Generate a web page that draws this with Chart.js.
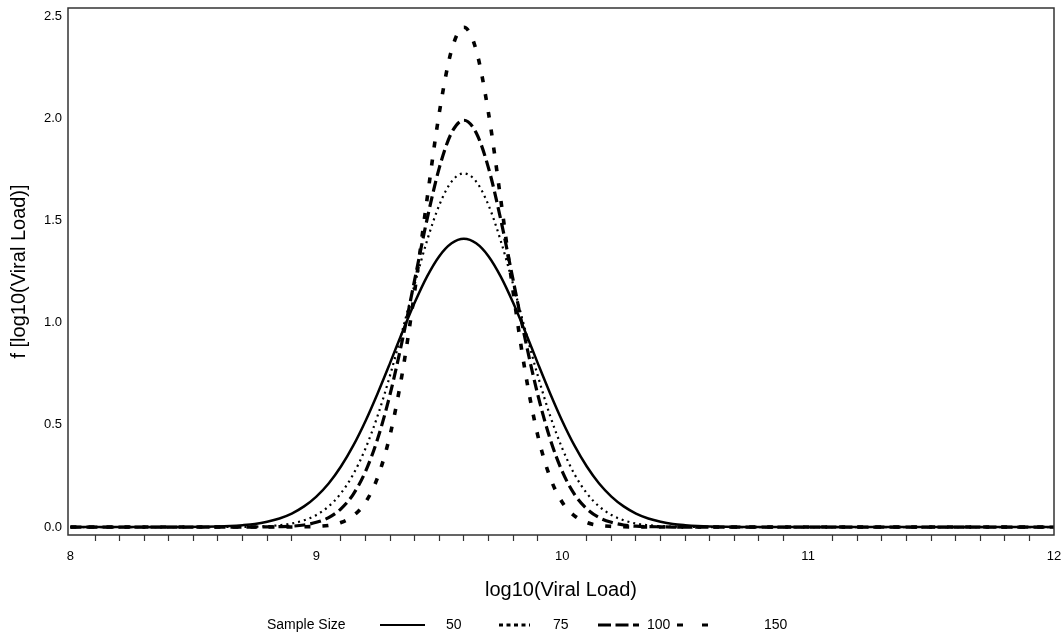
<!DOCTYPE html>
<html>
<head>
<meta charset="utf-8">
<script src="https://cdn.jsdelivr.net/npm/chart.js@4.4.1/dist/chart.umd.min.js"></script>
<style>
  html, body { margin: 0; padding: 0; background: #fff; }
  #wrap { width: 1062px; height: 632px; }
</style>
</head>
<body>
<div id="wrap"><canvas id="chart" width="1062" height="632"></canvas></div>
<script>
// values (density estimates per sample size)
const xs = [8.0, 8.3, 8.6, 8.65, 8.7, 8.75, 8.8, 8.85, 8.9, 8.95, 9.0, 9.05, 9.1, 9.15, 9.2, 9.25, 9.3, 9.35, 9.4, 9.45, 9.5, 9.55,
  9.6, 9.65, 9.7, 9.75, 9.8, 9.85, 9.9, 9.95, 10.0, 10.05, 10.1, 10.15, 10.2, 10.25, 10.3, 10.35, 10.4, 10.45, 10.5, 10.55, 10.6, 10.9, 12.0];

const n50 = [0, 0, 0.003, 0.005, 0.009, 0.015, 0.026, 0.042, 0.066, 0.101, 0.149, 0.213, 0.296, 0.398, 0.519, 0.656, 0.803, 0.954, 1.098, 1.225, 1.325, 1.388,
  1.410, 1.388, 1.325, 1.225, 1.098, 0.954, 0.803, 0.656, 0.519, 0.398, 0.296, 0.213, 0.149, 0.101, 0.066, 0.042, 0.026, 0.015, 0.009, 0.005, 0.003, 0, 0];
const n75 = [0, 0, 0, 0.001, 0.001, 0.002, 0.004, 0.009, 0.017, 0.033, 0.059, 0.101, 0.165, 0.258, 0.385, 0.547, 0.743, 0.962, 1.188, 1.400, 1.575, 1.690,
  1.730, 1.690, 1.575, 1.400, 1.188, 0.962, 0.743, 0.547, 0.385, 0.258, 0.165, 0.101, 0.059, 0.033, 0.017, 0.009, 0.004, 0.002, 0.001, 0.001, 0, 0, 0];
const n100 = [0, 0, 0, 0, 0, 0, 0.001, 0.002, 0.004, 0.010, 0.023, 0.046, 0.089, 0.160, 0.272, 0.434, 0.650, 0.915, 1.210, 1.504, 1.757, 1.929,
  1.990, 1.929, 1.757, 1.504, 1.210, 0.915, 0.650, 0.434, 0.272, 0.160, 0.089, 0.046, 0.023, 0.010, 0.004, 0.002, 0.001, 0, 0, 0, 0, 0, 0];
const n150 = [0, 0, 0, 0, 0, 0, 0, 0, 0, 0.001, 0.003, 0.008, 0.022, 0.055, 0.121, 0.245, 0.451, 0.756, 1.154, 1.602, 2.026, 2.333,
  2.445, 2.333, 2.026, 1.602, 1.154, 0.756, 0.451, 0.245, 0.121, 0.055, 0.022, 0.008, 0.003, 0.001, 0, 0, 0, 0, 0, 0, 0, 0, 0];

const seriesNames = ['50', '75', '100', '150'];
const legendTitle = 'Sample Size';
const xTickLabels = ['8', '9', '10', '11', '12'];
const yTicks = [0, 0.5, 1.0, 1.5, 2.0, 2.5];
const xTitle = 'log10(Viral Load)';
const yTitle = 'f [log10(Viral Load)]';

const FONT = '"Liberation Sans", Arial, Helvetica, sans-serif';
const INK = '#000';

function isMajor(v) {
    return Math.abs(v - Math.round(v)) < 1e-6;
}

function line(values, width, dash) {
    return {
        data: xs.map((x, i) => ({ x: x, y: values[i] })),
        borderColor: INK,
        borderWidth: width,
        borderDash: dash,
        borderCapStyle: 'butt',
        pointRadius: 0,
        fill: false,
        cubicInterpolationMode: 'monotone'
    };
}

// box around the plot + the legend row under the axis title
const framePlugin = {
    id: 'frame',
    afterDraw(chart) {
        const ctx = chart.ctx;
        const a = chart.chartArea;
        ctx.save();
        ctx.strokeStyle = '#333';
        ctx.lineWidth = 1.5;
        ctx.strokeRect(a.left, a.top, a.right - a.left, a.bottom - a.top);

        const y = 625;
        const items = [
            { x0: 380, x1: 425, tx: 446, dash: [] },
            { x0: 499, x1: 530, tx: 553, dash: [4, 3.5] },
            { x0: 598, x1: 639, tx: 647, dash: [13, 4.5] },
            { x0: 677, x1: 709, tx: 764, dash: [6, 19] }
        ];
        ctx.font = '14px ' + FONT;
        ctx.fillStyle = INK;
        ctx.textBaseline = 'middle';
        ctx.fillText(legendTitle, 267, y);
        items.forEach((it, i) => {
            ctx.beginPath();
            ctx.setLineDash(it.dash);
            ctx.lineWidth = i === 0 ? 2.2 : 2.8;
            ctx.strokeStyle = INK;
            ctx.moveTo(it.x0, y);
            ctx.lineTo(it.x1, y);
            ctx.stroke();
            ctx.setLineDash([]);
            ctx.fillText(seriesNames[i], it.tx, y);
        });
        ctx.restore();
    }
};

new Chart(document.getElementById('chart'), {
    type: 'line',
    data: {
        datasets: [
            line(n50, 2.5, []),
            line(n75, 2.2, [2, 4]),
            line(n100, 3.2, [11, 5]),
            line(n150, 3.6, [6, 12])
        ]
    },
    options: {
        responsive: false,
        animation: false,
        layout: { padding: { left: 0, right: 8, top: 8, bottom: 30 } },
        plugins: { legend: { display: false }, tooltip: { enabled: false } },
        scales: {
            x: {
                type: 'linear',
                min: 7.99,
                max: 12.0,
                afterFit(scale) {
                    scale.height = 67;
                    scale.paddingLeft = 0;
                    scale.paddingRight = 0;
                },
                afterBuildTicks(scale) {
                    const t = [];
                    for (let i = 0; i <= 40; i++) t.push({ value: 8 + i / 10 });
                    scale.ticks = t;
                },
                grid: {
                    drawOnChartArea: false,
                    drawTicks: true,
                    tickLength: 6,
                    tickWidth: 1.2,
                    tickColor: (c) => (c.tick && isMajor(c.tick.value)) ? 'rgba(0,0,0,0)' : '#333'
                },
                border: { display: false },
                ticks: {
                    autoSkip: false,
                    maxRotation: 0,
                    padding: 8,
                    color: INK,
                    font: { family: FONT, size: 13 },
                    callback: (v) => isMajor(v) ? xTickLabels[Math.round(v) - 8] : ''
                },
                title: {
                    display: true,
                    text: xTitle,
                    color: INK,
                    padding: 0,
                    font: { family: FONT, size: 20 }
                }
            },
            y: {
                type: 'linear',
                min: -0.039,
                max: 2.539,
                afterFit(scale) {
                    scale.width = 68;
                    scale.paddingTop = 0;
                    scale.paddingBottom = 0;
                },
                afterBuildTicks(scale) {
                    scale.ticks = yTicks.map(v => ({ value: v }));
                },
                grid: { drawOnChartArea: false, drawTicks: false },
                border: { display: false },
                ticks: {
                    padding: 6,
                    color: INK,
                    font: { family: FONT, size: 13 },
                    callback: (v) => v.toFixed(1)
                },
                title: {
                    display: true,
                    text: yTitle,
                    color: INK,
                    padding: { top: 7, bottom: 0 },
                    font: { family: FONT, size: 20 }
                }
            }
        }
    },
    plugins: [framePlugin]
});
</script>
</body>
</html>
